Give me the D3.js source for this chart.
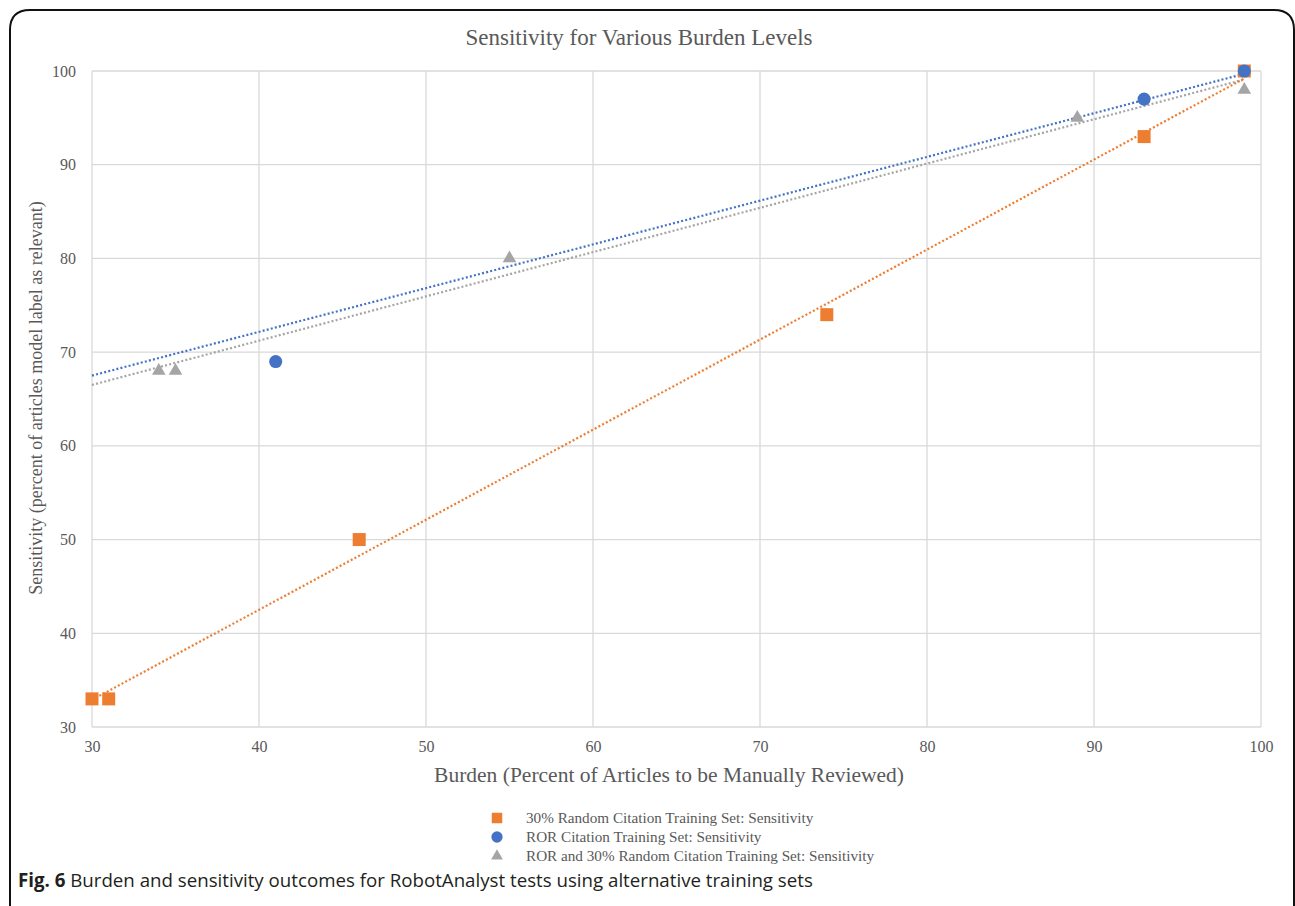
<!DOCTYPE html>
<html>
<head>
<meta charset="utf-8">
<script src="https://cdn.jsdelivr.net/npm/d3@7"></script>
<style>
	body { margin: 0; background: #fff; }
	svg { display: block; }
	.grid line { stroke: #d9d9d9; stroke-width: 1.3; }
	.tick text { fill: #595959; font-family: 'Liberation Serif', serif; font-size: 16px; }
</style>
</head>
<body>
<div id="chart"></div>
<script>
/* global d3 */

// Data: [burden, sensitivity]
var randomSet = [[30, 33], [31, 33], [46, 50], [74, 74], [93, 93], [99, 100]];
var rorSet = [[41, 69], [93, 97], [99, 100]];
var rorRandomSet = [[34, 68], [35, 68], [55, 80], [89, 95], [99, 98]];

// Dotted trendline end points, as drawn in the figure
var randomTrend = [[30, 32.9], [99, 99.2]];
var rorTrend = [[30, 67.5], [99, 99.7]];
var rorRandomTrend = [[30, 66.5], [99, 99.1]];

var xTicks = [30, 40, 50, 60, 70, 80, 90, 100];
var yTicks = [30, 40, 50, 60, 70, 80, 90, 100];

var seriesNames = [
	'30% Random Citation Training Set: Sensitivity',
	'ROR Citation Training Set: Sensitivity',
	'ROR and 30% Random Citation Training Set: Sensitivity'
];

(function() {

	var W = 1295, H = 906;
	var margin = { top: 71, left: 92, right: 34, bottom: 179 };
	var width = W - margin.left - margin.right,
		height = H - margin.top - margin.bottom;

	var series = [
		{ name: seriesNames[0], data: randomSet, trend: randomTrend, color: '#ed7d31', shape: 'square' },
		{ name: seriesNames[1], data: rorSet, trend: rorTrend, color: '#4472c4', shape: 'circle' },
		{ name: seriesNames[2], data: rorRandomSet, trend: rorRandomTrend, color: '#a5a5a5', shape: 'triangle' }
	];

	var svg = d3.select('#chart').append('svg')
		.attr('width', W)
		.attr('height', H);

	// Outer frame with rounded top corners
	svg.append('path')
		.attr('d', 'M10,' + (H + 2) + ' L10,30 Q10,10 30,10 L1274,10 Q1294,10 1294,30 L1294,' + (H + 2))
		.attr('fill', 'none')
		.attr('stroke', '#111')
		.attr('stroke-width', 2);

	var xScale = d3.scaleLinear().domain([30, 100]).range([0, width]);
	var yScale = d3.scaleLinear().domain([30, 100]).range([height, 0]);

	var g = svg.append('g')
		.attr('transform', 'translate(' + margin.left + ',' + margin.top + ')');

	// Gridlines
	var grid = g.append('g').attr('class', 'grid');
	grid.selectAll('.gx').data(xTicks).enter().append('line')
		.attr('x1', function(d) { return xScale(d); })
		.attr('x2', function(d) { return xScale(d); })
		.attr('y1', 0)
		.attr('y2', height);
	grid.selectAll('.gy').data(yTicks).enter().append('line')
		.attr('x1', 0)
		.attr('x2', width)
		.attr('y1', function(d) { return yScale(d); })
		.attr('y2', function(d) { return yScale(d); });

	// Axes (labels only)
	var gx = g.append('g')
		.attr('transform', 'translate(0,' + height + ')')
		.call(d3.axisBottom(xScale).tickValues(xTicks).tickSize(0).tickPadding(14));
	var gy = g.append('g')
		.call(d3.axisLeft(yScale).tickValues(yTicks).tickSize(0).tickPadding(16));
	gx.select('.domain').remove();
	gy.select('.domain').remove();

	// Trendlines
	var line = d3.line()
		.x(function(d) { return xScale(d[0]); })
		.y(function(d) { return yScale(d[1]); });
	g.selectAll('.trend').data(series.slice().reverse()).enter().append('path')
		.attr('class', 'trend')
		.attr('d', function(d) { return line(d.trend); })
		.attr('fill', 'none')
		.attr('stroke', function(d) { return d.color; })
		.attr('stroke-width', 2.2)
		.attr('stroke-dasharray', '2,2.2');

	var symbols = {
		square: d3.symbol().type(d3.symbolSquare).size(169),
		circle: d3.symbol().type(d3.symbolCircle).size(135),
		triangle: d3.symbol().type(d3.symbolTriangle).size(80)
	};

	// Markers
	series.forEach(function(s) {
		g.append('g').selectAll('path').data(s.data).enter().append('path')
			.attr('d', symbols[s.shape]())
			.attr('transform', function(d) {
				return 'translate(' + xScale(d[0]) + ',' + yScale(d[1]) + ')';
			})
			.attr('fill', s.color);
	});

	// Title
	svg.append('text')
		.attr('x', 639)
		.attr('y', 45)
		.attr('text-anchor', 'middle')
		.attr('fill', '#595959')
		.style('font-family', "'Liberation Serif', serif")
		.style('font-size', '23px')
		.text('Sensitivity for Various Burden Levels');

	// Axis titles
	svg.append('text')
		.attr('x', 669)
		.attr('y', 782)
		.attr('text-anchor', 'middle')
		.attr('fill', '#595959')
		.style('font-family', "'Liberation Serif', serif")
		.style('font-size', '21.5px')
		.text('Burden (Percent of Articles to be Manually Reviewed)');
	svg.append('text')
		.attr('transform', 'translate(42,398) rotate(-90)')
		.attr('text-anchor', 'middle')
		.attr('fill', '#595959')
		.style('font-family', "'Liberation Serif', serif")
		.style('font-size', '18px')
		.text('Sensitivity (percent of articles model label as relevant)');

	// Legend
	var legend = svg.append('g').attr('transform', 'translate(497,818)');
	var rows = legend.selectAll('g').data(series).enter().append('g')
		.attr('transform', function(d, i) { return 'translate(0,' + (i * 19) + ')'; });
	rows.append('path')
		.attr('d', function(d) {
			var sz = { square: 110, circle: 100, triangle: 60 }[d.shape];
			var t = { square: d3.symbolSquare, circle: d3.symbolCircle, triangle: d3.symbolTriangle }[d.shape];
			return d3.symbol().type(t).size(sz)();
		})
		.attr('fill', function(d) { return d.color; });
	rows.append('text')
		.attr('x', 29)
		.attr('y', 5)
		.attr('fill', '#595959')
		.style('font-family', "'Liberation Serif', serif")
		.style('font-size', '15.2px')
		.text(function(d) { return d.name; });

	// Caption
	var cap = svg.append('text')
		.attr('x', 18)
		.attr('y', 887)
		.attr('fill', '#231f20')
		.style('font-family', "'Open Sans', sans-serif")
		.style('font-size', '18.7px');
	cap.append('tspan').attr('font-weight', 'bold').text('Fig. 6');
	cap.append('tspan').text(' Burden and sensitivity outcomes for RobotAnalyst tests using alternative training sets');

})();
</script>
</body>
</html>
